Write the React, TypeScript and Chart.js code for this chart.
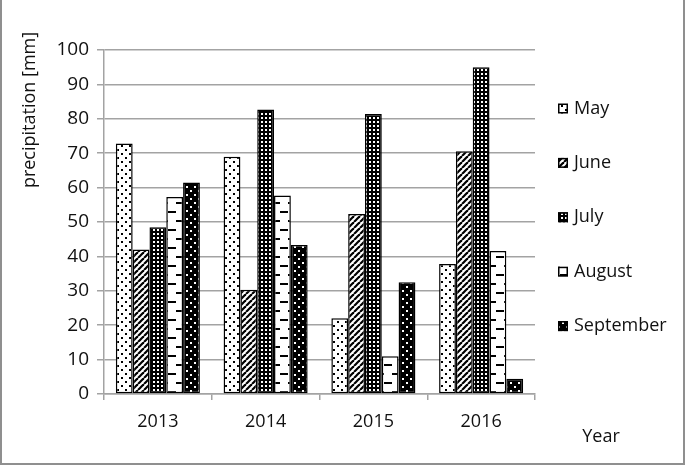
import { useEffect, useRef } from 'react';
import { Chart, registerables } from 'chart.js';

Chart.register(...registerables);

const years = ['2013', '2014', '2015', '2016'];
const seriesNames = ['May', 'June', 'July', 'August', 'September'];
const may = [72.8, 69.0, 22.0, 37.8];
const june = [42.0, 30.3, 52.3, 70.6];
const july = [48.5, 82.7, 81.4, 95.0];
const august = [57.3, 57.7, 11.0, 41.6];
const september = [61.5, 43.3, 32.5, 4.4];
const yMin = 0;
const yMax = 100;
const yStep = 10;
const yTitle = 'precipitation [mm]';
const xTitle = 'Year';

const FONT = "'Open Sans', sans-serif";
const GRID = '#a3a3a3';
const TEXT = '#111';

function makePattern(kind: string): CanvasPattern | string {
  const c = document.createElement('canvas');
  const ctx = c.getContext('2d');
  if (!ctx) return '#000';
  if (kind === 'dots') {
    c.width = 8; c.height = 8;
    ctx.fillStyle = '#fff'; ctx.fillRect(0, 0, 8, 8);
    ctx.fillStyle = '#000';
    ctx.fillRect(1, 1, 2, 2); ctx.fillRect(5, 5, 2, 2);
  } else if (kind === 'diag') {
    c.width = 6; c.height = 6;
    ctx.fillStyle = '#fff'; ctx.fillRect(0, 0, 6, 6);
    ctx.strokeStyle = '#000'; ctx.lineWidth = 2.2;
    for (const o of [-6, 0, 6]) {
      ctx.beginPath(); ctx.moveTo(o, 6); ctx.lineTo(o + 6, 0); ctx.stroke();
    }
  } else if (kind === 'grid') {
    c.width = 4; c.height = 4;
    ctx.fillStyle = '#000'; ctx.fillRect(0, 0, 4, 4);
    ctx.fillStyle = '#fff'; ctx.fillRect(1, 1, 2, 2);
  } else if (kind === 'dash') {
    c.width = 16; c.height = 18;
    ctx.fillStyle = '#fff'; ctx.fillRect(0, 0, 16, 18);
    ctx.fillStyle = '#000';
    ctx.fillRect(0, 4, 8, 2); ctx.fillRect(8, 13, 8, 2);
  } else {
    c.width = 8; c.height = 8;
    ctx.fillStyle = '#000'; ctx.fillRect(0, 0, 8, 8);
    ctx.fillStyle = '#fff';
    ctx.fillRect(2, 2, 2, 2); ctx.fillRect(6, 6, 2, 2);
  }
  const p = ctx.createPattern(c, 'repeat');
  return p || '#000';
}

export default function App() {
  const ref = useRef<HTMLCanvasElement>(null);
  useEffect(() => {
    document.body.style.margin = '0';
    const canvas = ref.current;
    if (!canvas) return;
    const patterns = ['dots', 'diag', 'grid', 'dash', 'bdots'].map(makePattern);
    const values = [may, june, july, august, september];

    const decor = {
      id: 'decor',
      afterDraw(chart: any) {
        const ctx = chart.ctx as CanvasRenderingContext2D;
        ctx.save();
        // outer frame
        ctx.fillStyle = '#8f8f8f';
        ctx.fillRect(0, 0, 2, 465);
        ctx.fillRect(683, 0, 2, 465);
        ctx.fillRect(0, 463, 685, 2);
        // axis titles
        ctx.fillStyle = TEXT;
        ctx.font = `18px ${FONT}`;
        ctx.textAlign = 'center';
        ctx.textBaseline = 'middle';
        ctx.save();
        ctx.translate(30, 110);
        ctx.rotate(-Math.PI / 2);
        ctx.fillText(yTitle, 0, 0);
        ctx.restore();
        ctx.fillText(xTitle, 601, 437);
        // legend
        ctx.textAlign = 'left';
        chart.data.datasets.forEach((ds: any, i: number) => {
          const cy = 108.5 + i * 54.4;
          const bx = 558, by = cy - 5;
          ctx.fillStyle = ds.backgroundColor;
          ctx.fillRect(bx, by, 10, 10);
          ctx.strokeStyle = '#000';
          ctx.lineWidth = 1.5;
          ctx.strokeRect(bx + 0.75, by + 0.75, 8.5, 8.5);
          ctx.fillStyle = TEXT;
          ctx.fillText(ds.label, 574, cy);
        });
        ctx.restore();
      },
    };

    const chart = new Chart(canvas, {
      type: 'bar',
      data: {
        labels: years,
        datasets: seriesNames.map((name, i) => ({
          label: name,
          data: values[i],
          backgroundColor: patterns[i] as any,
          borderColor: '#000',
          borderWidth: 1.5,
          borderSkipped: false,
          categoryPercentage: 0.78,
          barPercentage: 1.0,
        })),
      },
      options: {
        responsive: false,
        animation: false,
        layout: { padding: { left: 0, right: 150, top: 50, bottom: 0 } },
        plugins: {
          legend: { display: false },
          title: { display: false },
          tooltip: { enabled: false },
        },
        scales: {
          x: {
            afterFit(scale: any) { scale.height = 71; },
            grid: {
              display: true,
              drawOnChartArea: false,
              drawTicks: true,
              tickLength: 6,
              color: GRID,
              lineWidth: 1.5,
            },
            border: { display: true, color: GRID, width: 1.5 },
            ticks: {
              color: TEXT,
              font: { family: FONT, size: 18 },
              padding: 11,
            },
          },
          y: {
            min: yMin,
            max: yMax,
            afterFit(scale: any) { scale.width = 104; },
            grid: {
              color: GRID,
              lineWidth: 1.5,
              tickLength: 7,
              drawTicks: true,
            },
            border: { display: true, color: GRID, width: 1.5 },
            ticks: {
              stepSize: yStep,
              color: TEXT,
              font: { family: FONT, size: 19 },
              padding: 8,
            },
          },
        },
      },
      plugins: [decor],
    });
    return () => chart.destroy();
  }, []);
  return <canvas ref={ref} width={685} height={465} style={{ display: 'block' }} />;
}
